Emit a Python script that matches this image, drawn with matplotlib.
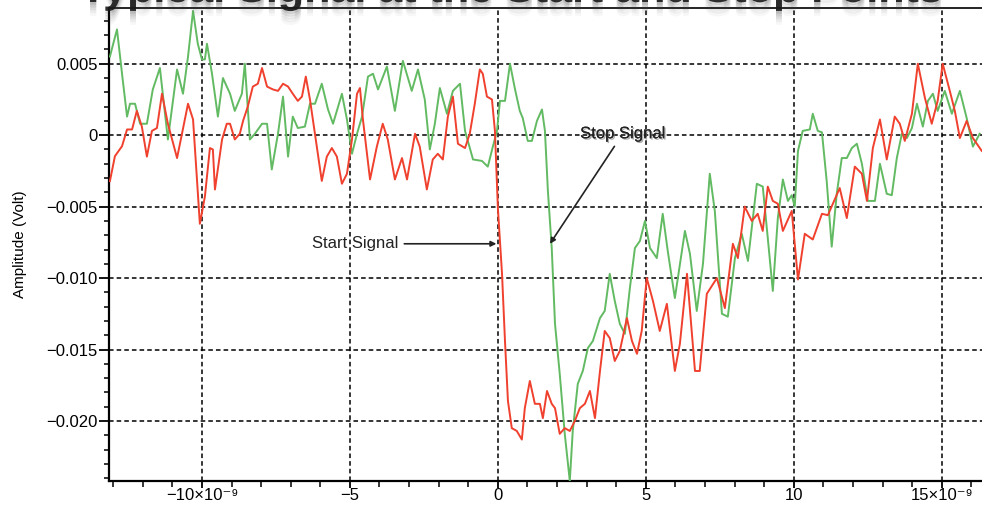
import matplotlib
matplotlib.use("Agg")
import matplotlib.pyplot as plt
from matplotlib.ticker import MultipleLocator, FixedLocator, FixedFormatter
import matplotlib.patheffects as pe

plt.rcParams['font.family'] = ['Liberation Sans', 'DejaVu Sans']

# time in ns, amplitude in Volt
start_t = [-13.11, -12.94, -12.70, -12.53, -12.36, -12.20, -12.03, -11.86, -11.69, -11.52,
           -11.35, -11.15, -10.84, -10.47, -10.30, -10.07, -9.90, -9.73, -9.63, -9.56,
           -9.32, -9.16, -9.05, -8.89, -8.72, -8.61, -8.45, -8.28, -8.11, -7.97,
           -7.80, -7.60, -7.43, -7.26, -7.09, -6.93, -6.76, -6.62, -6.49, -6.35,
           -6.18, -5.95, -5.78, -5.61, -5.44, -5.27, -5.10, -4.93, -4.76, -4.66,
           -4.56, -4.32, -4.09, -3.89, -3.72, -3.48, -3.24, -3.07, -2.80, -2.64,
           -2.40, -2.20, -2.03, -1.86, -1.69, -1.52, -1.35, -1.11, -0.95, -0.78,
           -0.61, -0.51, -0.37, -0.20, -0.10, 0.00, 0.14, 0.24, 0.34, 0.47,
           0.64, 0.81, 0.91, 1.08, 1.25, 1.42, 1.52, 1.66, 1.82, 1.93,
           2.09, 2.26, 2.43, 2.60, 2.77, 2.94, 3.11, 3.28, 3.45, 3.61,
           3.78, 3.95, 4.12, 4.36, 4.53, 4.70, 4.86, 5.03, 5.24, 5.47,
           5.71, 5.98, 6.15, 6.39, 6.66, 6.82, 7.06, 7.40, 7.67, 7.94,
           8.11, 8.34, 8.58, 8.78, 8.95, 9.12, 9.29, 9.46, 9.63, 9.93,
           10.14, 10.37, 10.64, 10.95, 11.15, 11.32, 11.55, 11.79, 12.06, 12.30,
           12.47, 12.67, 12.91, 13.14, 13.41, 13.58, 13.75, 13.99, 14.19, 14.43,
           14.66, 14.86, 15.03, 15.27, 15.44, 15.61, 15.84, 16.05, 16.35]
start_v = [-0.00322, -0.00147, -0.00077, 0.0004, 0.0004, 0.0017, 0.0006, -0.0015, 0.0003, 0.0005,
           0.0029, 0.0008, -0.0016, 0.0022, 0.0011, -0.0062, -0.0043, -0.0009, -0.0010, -0.0038,
           -0.0003, 0.0008, 0.0008, -0.0003, 0.0001, 0.0010, 0.0020, 0.0034, 0.0036, 0.0047,
           0.0034, 0.0032, 0.0031, 0.0036, 0.0034, 0.0029, 0.0024, 0.0027, 0.0041, 0.0025,
           0.0001, -0.0032, -0.0015, -0.0009, -0.0015, -0.0034, -0.0027, -0.0003, 0.0029, 0.0033,
           0.0011, -0.0031, -0.0008, 0.0008, -0.0003, -0.0031, -0.0016, -0.0031, 0.0001, -0.0008,
           -0.0038, -0.0017, -0.0013, -0.0017, 0.0013, 0.0027, -0.0006, -0.0009, 0.0001, 0.0022,
           0.0046, 0.0043, 0.0027, 0.0025, 0.0003, -0.0051, -0.0097, -0.0144, -0.0186, -0.0205,
           -0.0207, -0.0213, -0.0191, -0.0172, -0.0188, -0.0188, -0.0198, -0.0179, -0.0188, -0.0191,
           -0.0209, -0.0205, -0.0207, -0.0200, -0.0191, -0.0188, -0.0179, -0.0198, -0.0165, -0.0137,
           -0.0142, -0.0158, -0.0151, -0.0128, -0.0144, -0.0153, -0.0137, -0.0100, -0.0116, -0.0137,
           -0.0118, -0.0165, -0.0146, -0.0097, -0.0165, -0.0165, -0.0111, -0.0100, -0.0121, -0.0076,
           -0.0086, -0.0050, -0.0060, -0.0055, -0.0067, -0.0036, -0.0046, -0.0048, -0.0067, -0.0053,
           -0.0101, -0.0069, -0.0073, -0.0055, -0.0056, -0.0048, -0.0037, -0.0058, -0.0022, -0.0027,
           -0.0046, -0.0009, 0.0011, -0.0017, 0.0013, 0.0008, -0.0004, 0.0015, 0.0050, 0.0026,
           0.0008, 0.0024, 0.0050, 0.0031, 0.0017, -0.0002, 0.0010, -0.0002, -0.0011]

stop_t = [-13.11, -12.87, -12.70, -12.53, -12.43, -12.26, -12.09, -11.86, -11.66, -11.42,
          -11.15, -10.84, -10.64, -10.47, -10.30, -10.14, -10.00, -9.90, -9.83, -9.66,
          -9.46, -9.29, -9.05, -8.89, -8.65, -8.55, -8.38, -8.21, -7.97, -7.80,
          -7.64, -7.43, -7.26, -7.09, -6.93, -6.76, -6.52, -6.35, -6.18, -5.95,
          -5.74, -5.57, -5.27, -5.10, -4.93, -4.76, -4.59, -4.39, -4.22, -4.05,
          -3.75, -3.48, -3.21, -2.91, -2.70, -2.47, -2.30, -2.13, -1.96, -1.72,
          -1.52, -1.28, -1.11, -0.84, -0.54, -0.34, -0.17, -0.03, 0.07, 0.24,
          0.41, 0.57, 0.74, 0.84, 1.01, 1.15, 1.32, 1.49, 1.59, 1.69,
          1.82, 1.93, 2.09, 2.26, 2.43, 2.53, 2.70, 2.87, 3.04, 3.21,
          3.45, 3.61, 3.78, 3.95, 4.12, 4.29, 4.46, 4.63, 4.80, 4.97,
          5.14, 5.37, 5.57, 5.74, 5.98, 6.32, 6.49, 6.72, 6.93, 7.16,
          7.33, 7.57, 7.77, 8.01, 8.24, 8.45, 8.75, 8.95, 9.12, 9.29,
          9.46, 9.63, 9.80, 9.93, 10.03, 10.14, 10.30, 10.54, 10.64, 10.81,
          10.95, 11.11, 11.28, 11.45, 11.62, 11.79, 11.96, 12.13, 12.30, 12.50,
          12.74, 12.91, 13.14, 13.31, 13.48, 13.65, 13.82, 13.99, 14.16, 14.36,
          14.53, 14.70, 14.86, 15.10, 15.34, 15.61, 15.84, 16.05, 16.28]
stop_v = [0.0055, 0.0074, 0.0043, 0.0013, 0.0022, 0.0022, 0.0008, 0.0008, 0.0032, 0.0047,
          -0.0003, 0.0046, 0.0029, 0.0055, 0.0087, 0.0064, 0.0053, 0.0053, 0.0064, 0.0043,
          0.0013, 0.0040, 0.0029, 0.0017, 0.0029, 0.0050, -0.0003, 0.0001, 0.0008, 0.0008,
          -0.0024, 0.0001, 0.0027, -0.0015, 0.0013, 0.0005, 0.0006, 0.0022, 0.0022, 0.0036,
          0.0018, 0.0008, 0.0029, 0.0011, -0.0013, 0.0001, 0.0013, 0.0041, 0.0043, 0.0032,
          0.0048, 0.0017, 0.0052, 0.0031, 0.0046, 0.0025, -0.0010, 0.0008, 0.0033, 0.0015,
          0.0031, 0.0036, 0.0003, -0.0017, -0.0018, -0.0022, -0.0008, 0.0003, 0.0024, 0.0024,
          0.0050, 0.0033, 0.0017, 0.0012, -0.0004, -0.0004, 0.0010, 0.0018, 0.0003, -0.0039,
          -0.0079, -0.0132, -0.0167, -0.0209, -0.0242, -0.0207, -0.0174, -0.0165, -0.0149, -0.0144,
          -0.0128, -0.0123, -0.0097, -0.0116, -0.0132, -0.0139, -0.0107, -0.0079, -0.0074, -0.0060,
          -0.0079, -0.0086, -0.0055, -0.0081, -0.0114, -0.0067, -0.0083, -0.0123, -0.0090, -0.0027,
          -0.0053, -0.0125, -0.0127, -0.0086, -0.0069, -0.0088, -0.0034, -0.0036, -0.0072, -0.0109,
          -0.0058, -0.0031, -0.0046, -0.0042, -0.0050, -0.0011, 0.0003, 0.0004, 0.0015, 0.0003,
          0.0002, -0.0032, -0.0078, -0.0041, -0.0016, -0.0016, -0.0009, -0.0006, -0.0020, -0.0046,
          -0.0046, -0.0020, -0.0041, -0.0042, -0.0016, 0.0001, -0.0002, 0.0005, 0.0022, 0.0006,
          0.0024, 0.0029, 0.0017, 0.0031, 0.0015, 0.0031, 0.0012, -0.0008, 0.0001]

x_ticks = [-10, -5, 0, 5, 10, 15]
x_tick_labels = ['\u221210\u00d710\u207b\u2079', '\u22125', '0', '5', '10', '15\u00d710\u207b\u2079']
y_ticks = [0.005, 0, -0.005, -0.010, -0.015, -0.020]
y_tick_labels = ['0.005', '0', '\u22120.005', '\u22120.010', '\u22120.015', '\u22120.020']

fig = plt.figure(figsize=(9.82, 5.05), dpi=100)
ax = fig.add_axes([109/982, 1-481/505, 1.0 - 109/982 + 0.01, (481-8)/505])

red = '#f0402e'
green = '#62ba62'
ax.plot(stop_t, stop_v, color=green, lw=1.4, zorder=3)
ax.plot(start_t, start_v, color=red, lw=1.4, zorder=4)

ax.set_xlim(-13.14, 16.69)
ax.set_ylim(-0.0242, 0.0089)

ax.xaxis.set_major_locator(FixedLocator(x_ticks))
ax.xaxis.set_major_formatter(FixedFormatter(x_tick_labels))
ax.xaxis.set_minor_locator(MultipleLocator(1))
ax.yaxis.set_major_locator(FixedLocator(y_ticks))
ax.yaxis.set_major_formatter(FixedFormatter(y_tick_labels))
ax.yaxis.set_minor_locator(MultipleLocator(0.001))

ax.grid(True, which='major', color='black', linestyle=(0, (3, 2)), lw=1.1)
ax.set_axisbelow(False)
for l in ax.get_xgridlines() + ax.get_ygridlines():
    l.set_zorder(2)

for s in ['left', 'bottom']:
    ax.spines[s].set_linewidth(1.6)
ax.spines['top'].set_linewidth(1.2)
ax.spines['right'].set_visible(False)

ax.tick_params(axis='y', which='major', direction='out', length=7, width=1.3, labelsize=12, pad=1)
ax.tick_params(axis='y', which='minor', direction='out', length=3.5, width=1.1)
ax.tick_params(axis='x', which='major', direction='out', length=5, width=1.3, labelsize=12, pad=0)
ax.tick_params(axis='x', which='minor', direction='out', length=4, width=1.1)
ax.tick_params(top=False, right=False, which='both')

ax.set_ylabel('Amplitude (Volt)', fontsize=11)
ax.yaxis.set_label_coords(-0.093, 0.5)

arrow_kw = dict(arrowstyle='-|>', color='#222222', lw=1.2, mutation_scale=8,
                shrinkA=2, shrinkB=0)
ax.annotate('Start Signal', xy=(-0.05, -0.0076), xytext=(-3.35, -0.0076),
            ha='right', va='center', fontsize=12, color='#222222',
            arrowprops=arrow_kw, zorder=6)
ax.annotate('Stop Signal', xy=(1.76, -0.0076), xytext=(4.22, 0.0001),
            ha='center', va='center', fontsize=12, color='#222222',
            arrowprops=arrow_kw, zorder=6,
            path_effects=[pe.withSimplePatchShadow(offset=(1, -1), shadow_rgbFace='#777777', alpha=0.6), pe.Normal()])

# blurred, cut-off title at the very top (soft shadow via path effects)
title = 'Typical Signal at the Start and Stop Points'
shadow = [pe.SimplePatchShadow(offset=(0, -o), shadow_rgbFace='#444444', alpha=a)
          for o, a in [(10, 0.04), (8, 0.06), (6, 0.08), (4, 0.10), (2, 0.14)]]
fig.text(80/982, 1 - 2/505, title, fontsize=31, fontweight='bold', color='#1a1a1a',
         va='baseline', ha='left', zorder=11, alpha=0.9,
         path_effects=shadow + [pe.Normal()])

fig.savefig('out.png', dpi=100)
